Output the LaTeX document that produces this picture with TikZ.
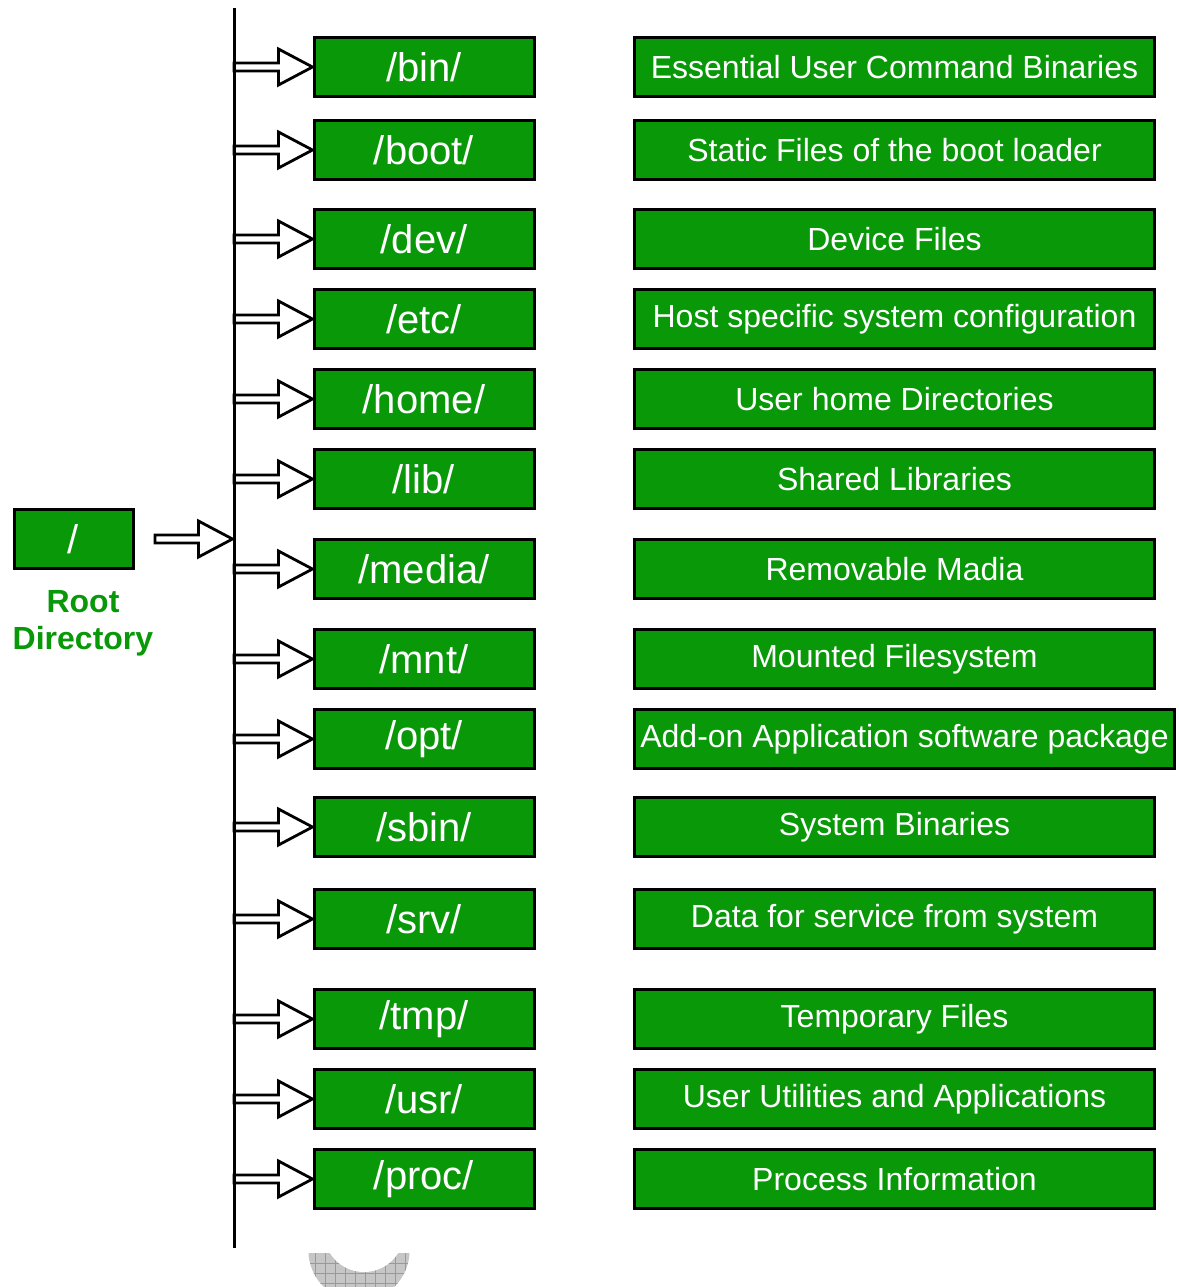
\documentclass[tikz,border=0pt]{standalone}
\usepackage{fontspec}
\setmainfont{Liberation Sans}
\usetikzlibrary{calc}
\definecolor{dirgreen}{RGB}{8,152,8}
\begin{document}
\begin{tikzpicture}[x=0.5pt,y=-0.5pt,
  dirbox/.style={draw=black, line width=1.5pt, fill=dirgreen, text=white, inner sep=0pt},
  namebox/.style={dirbox, minimum width=110pt, minimum height=29.5pt, font=\fontsize{20}{24}\selectfont},
  descbox/.style={dirbox, minimum width=260pt, minimum height=29.5pt, font=\fontsize{16}{19}\selectfont},
  blockarrow/.style={draw=black, line width=1.4pt, fill=white, line join=miter,
    to path={let \p1=(\tikztostart), \p2=(\tikztotarget) in
      (\x1,\y2+2pt) -- (\x2-17pt,\y2+2pt) -- (\x2-17pt,\y2+9pt) -- (\x2,\y2)
      -- (\x2-17pt,\y2-9pt) -- (\x2-17pt,\y2-2pt) -- (\x1,\y2-2pt) -- cycle}},
  gridline/.style={gray!80, line width=0.5pt},
]
\useasboundingbox (0,0) rectangle (1179,1287);

% root directory
\node[dirbox, minimum width=59.5pt, minimum height=29.5pt, font=\fontsize{20}{24}\selectfont] (root) at (73.5,539) {/};
\node[text=dirgreen, font=\bfseries\fontsize{16}{18.5}\selectfont, align=center] (rootlabel) at (83,623) {Root\\Directory};

% directory names
\foreach \nm/\y in {bin/67, boot/150, dev/239, etc/319, home/399, lib/479, media/569,
    mnt/659, opt/739, sbin/827, srv/919, tmp/1019, usr/1099, proc/1179}
  \node[namebox] (\nm) at (424,\y) {/\nm/};

% descriptions
\node[descbox] (d-bin)   at (894.5,67)   {Essential User Command Binaries};
\node[descbox] (d-boot)  at (894.5,150)  {Static Files of the boot loader};
\node[descbox] (d-dev)   at (894.5,239)  {Device Files};
\node[descbox] (d-etc)   at (894.5,319)  {Host specific system configuration};
\node[descbox] (d-home)  at (894.5,399)  {User home Directories};
\node[descbox] (d-lib)   at (894.5,479)  {Shared Libraries};
\node[descbox] (d-media) at (894.5,569)  {Removable Madia};
\node[descbox] (d-mnt)   at (894.5,659)  {Mounted Filesystem};
\node[descbox, minimum width=270pt] (d-opt) at (904.5,739) {Add-on Application software package};
\node[descbox] (d-sbin)  at (894.5,827)  {System Binaries};
\node[descbox] (d-srv)   at (894.5,919)  {Data for service from system};
\node[descbox] (d-tmp)   at (894.5,1019) {Temporary Files};
\node[descbox] (d-usr)   at (894.5,1099) {User Utilities and Applications};
\node[descbox] (d-proc)  at (894.5,1179) {Process Information};

% bus and block arrows
\coordinate (bustop) at (234,8);
\coordinate (busbot) at (234,1248);
\foreach \nm in {bin,boot,dev,etc,home,lib,media,mnt,opt,sbin,srv,tmp,usr,proc}
  \path[blockarrow] (bustop |- \nm.west) to (\nm.west);
\coordinate (rootout) at (155,539);
\coordinate (busin) at (232.5,539);
\path[blockarrow] (rootout) to (busin);
\draw[line width=1.5pt] (bustop) -- (busbot);

% hatched ring piece at the bottom
\begin{scope}
  \clip (300,1253) rectangle (420,1287);
  \clip (359,1250.5) circle[radius=50.6];
  \fill[gray!45] (300,1240) rectangle (420,1290);
  \foreach \gx in {305,315,...,415}
    \draw[gridline] (\gx,1250) -- (\gx,1290);
  \foreach \gy in {1263,1273,1283}
    \draw[gridline] (300,\gy) -- (420,\gy);
  \fill[white] (364,1232) circle[radius=40];
\end{scope}
\end{tikzpicture}
\end{document}
